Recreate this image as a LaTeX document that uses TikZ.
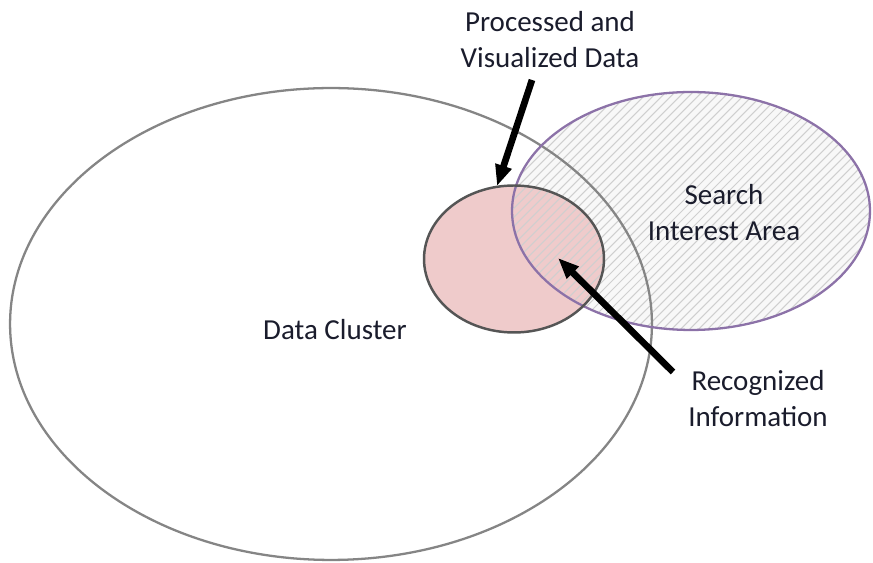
\documentclass[tikz,border=0pt]{standalone}
\usepackage{fontspec}
\setmainfont{Carlito}
\usetikzlibrary{shapes.geometric, arrows.meta, positioning}
\definecolor{clustergray}{HTML}{858585}
\definecolor{areapurple}{HTML}{8C72A8}
\definecolor{hatchbg}{HTML}{F8F8F8}
\definecolor{hatchline}{HTML}{CFCFCF}
\definecolor{recpink}{HTML}{EFCBCB}
\definecolor{recedge}{HTML}{555555}
\definecolor{labeltext}{HTML}{1A1C2C}

\begin{document}
\begin{tikzpicture}[x=0.02cm,y=-0.02cm,
    blob/.style={ellipse,inner sep=0pt},
    hatch/.style={hatchline,line width=0.6pt},
    lbl/.style={align=center,text=labeltext,font=\fontsize{16.5}{20.5}\selectfont},
    pointer/.style={-{Triangle[length=0.42cm,width=0.32cm]},line width=3.8pt,black}]
    \useasboundingbox (0,0) rectangle (873,563);

    \node[blob,fill=white,minimum width=12.84cm,minimum height=9.44cm] (dc) at (331,324) {};
    \node[blob,fill=hatchbg,minimum width=7.16cm,minimum height=4.76cm] (sia) at (691,211) {};
    \node[blob,fill=recpink,minimum width=3.6cm,minimum height=2.94cm] (ri) at (514,259) {};

    \begin{scope}
        \clip (sia.center) ellipse [x radius=3.58cm,y radius=2.38cm];
        \foreach \i in {-34,...,34}
            \draw[hatch] ([xshift=\i*0.18cm-4cm,yshift=-4cm]sia.center) -- ++(8cm,8cm);
    \end{scope}

    \draw[clustergray,line width=1.3pt] (dc.center) ellipse [x radius=6.42cm,y radius=4.72cm];
    \draw[areapurple,line width=1.3pt] (sia.center) ellipse [x radius=3.58cm,y radius=2.38cm];
    \draw[recedge,line width=1.4pt] (ri.center) ellipse [x radius=1.8cm,y radius=1.47cm];

    \node[lbl] (dclabel) at (335,330) {Data Cluster};
    \node[lbl] (sialabel) at (724,213) {Search\\Interest Area};
    \node[lbl] (pvlabel) at (550,40) {Processed and\\Visualized Data};
    \node[lbl] (rilabel) at (758,399) {Recognized\\Information};

    \coordinate (pvtail) at (532,80);
    \coordinate (pvtip) at (497,186);
    \coordinate (ritail) at (673,372);
    \coordinate (ritip) at (558,258);
    \draw[pointer] (pvtail) -- (pvtip);
    \draw[pointer] (ritail) -- (ritip);
\end{tikzpicture}
\end{document}
